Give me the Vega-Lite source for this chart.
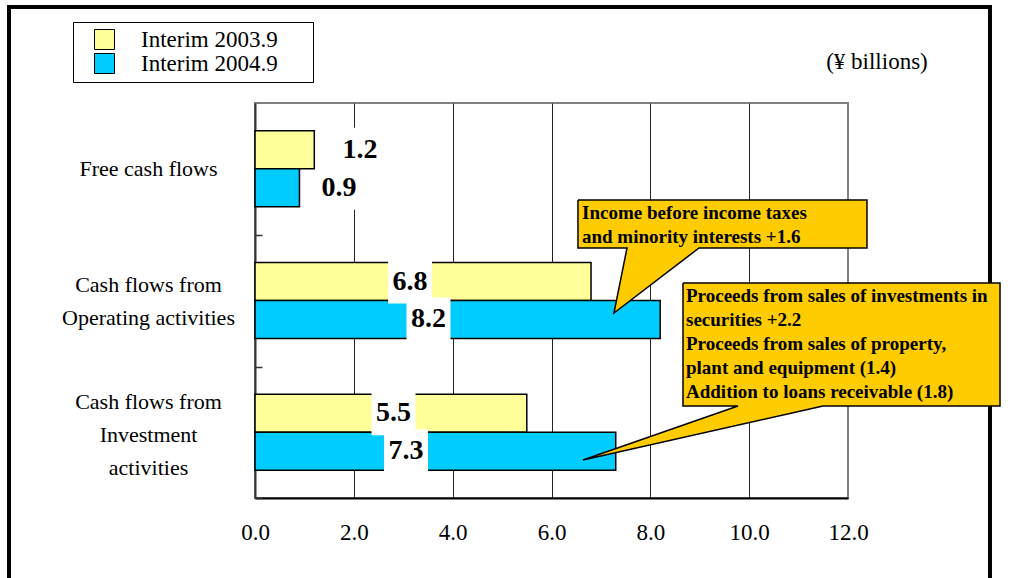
{
  "$schema": "https://vega.github.io/schema/vega-lite/v6.json",
  "width": 593,
  "height": 395,
  "autosize": "none",
  "padding": {"left": 255, "top": 103, "right": 163, "bottom": 80},
  "background": "white",
  "config": {
    "view": {"stroke": "#808080", "strokeWidth": 2},
    "font": "Liberation Serif"
  },
  "datasets": {
    "cf": [
      {"category": "Free cash flows", "series": "Interim 2003.9", "value": 1.2},
      {"category": "Free cash flows", "series": "Interim 2004.9", "value": 0.9},
      {"category": "Cash flows from Operating activities", "series": "Interim 2003.9", "value": 6.8},
      {"category": "Cash flows from Operating activities", "series": "Interim 2004.9", "value": 8.2},
      {"category": "Cash flows from Investment activities", "series": "Interim 2003.9", "value": 5.5},
      {"category": "Cash flows from Investment activities", "series": "Interim 2004.9", "value": 7.3}
    ],
    "valueLabels": [
      {"category": "Free cash flows", "series": "Interim 2003.9", "value": 1.2, "at": 2.125},
      {"category": "Free cash flows", "series": "Interim 2004.9", "value": 0.9, "at": 1.7},
      {"category": "Cash flows from Operating activities", "series": "Interim 2003.9", "value": 6.8, "at": 3.137},
      {"category": "Cash flows from Operating activities", "series": "Interim 2004.9", "value": 8.2, "at": 3.511},
      {"category": "Cash flows from Investment activities", "series": "Interim 2003.9", "value": 5.5, "at": 2.803},
      {"category": "Cash flows from Investment activities", "series": "Interim 2004.9", "value": 7.3, "at": 3.056}
    ],
    "callouts": [
      {"id": "a", "k": 1, "x": 6.536, "y": 0.737},
      {"id": "a", "k": 2, "x": 12.384, "y": 0.737},
      {"id": "a", "k": 3, "x": 12.384, "y": 1.101},
      {"id": "a", "k": 4, "x": 8.985, "y": 1.101},
      {"id": "a", "k": 5, "x": 7.264, "y": 1.595},
      {"id": "a", "k": 6, "x": 7.528, "y": 1.101},
      {"id": "a", "k": 7, "x": 6.536, "y": 1.101},
      {"id": "a", "k": 8, "x": 6.536, "y": 0.737},
      {"id": "b", "k": 1, "x": 8.661, "y": 1.367},
      {"id": "b", "k": 2, "x": 15.076, "y": 1.367},
      {"id": "b", "k": 3, "x": 15.076, "y": 2.301},
      {"id": "b", "k": 4, "x": 11.494, "y": 2.301},
      {"id": "b", "k": 5, "x": 6.637, "y": 2.711},
      {"id": "b", "k": 6, "x": 9.774, "y": 2.301},
      {"id": "b", "k": 7, "x": 8.661, "y": 2.301},
      {"id": "b", "k": 8, "x": 8.661, "y": 1.367}
    ],
    "notes": [
      {"x": 6.617, "y": 0.881, "text": "Income before income taxes\nand minority interests +1.6"},
      {"x": 8.722, "y": 1.511, "text": "Proceeds from sales of investments in\nsecurities +2.2\nProceeds from sales of property,\nplant and equipment (1.4)\nAddition to loans receivable (1.8)"}
    ],
    "unit": [
      {"x": 12.586, "y": -0.258, "text": "(¥ billions)"}
    ],
    "frame": [
      {"x": -4.978, "x2": 14.873, "y": -0.729, "y2": 3.775}
    ]
  },
  "resolve": {"scale": {"y": "independent"}},
  "layer": [
    {
      "layer": [
        {
          "data": {"name": "cf"},
          "mark": {"type": "bar", "stroke": "black", "strokeWidth": 1.5},
          "encoding": {
            "y": {
              "field": "category", "type": "nominal",
              "sort": ["Free cash flows", "Cash flows from Operating activities", "Cash flows from Investment activities"],
              "scale": {"paddingInner": 0.423, "paddingOuter": 0.2115},
              "axis": {
                "title": null,
                "domainColor": "#333333", "domainWidth": 2,
                "ticks": true, "tickBand": "center", "tickOffset": 66, "tickSize": -7, "tickColor": "#333333", "tickWidth": 1.5,
                "labelAlign": "center", "labelBaseline": "middle", "labelPadding": 114,
                "labelFont": "Liberation Serif", "labelFontSize": 22, "labelColor": "black",
                "labelLineHeight": 33, "labelLimit": 0,
                "labelOffset": {
                  "condition": [
                    {"test": "datum.value == 'Cash flows from Operating activities'", "value": -82},
                    {"test": "datum.value == 'Cash flows from Investment activities'", "value": -97}
                  ],
                  "value": -66
                },
                "labelExpr": "datum.label == 'Free cash flows' ? 'Free cash flows' : datum.label == 'Cash flows from Operating activities' ? ['Cash flows from', 'Operating activities'] : datum.label == 'Cash flows from Investment activities' ? ['Cash flows from', 'Investment', 'activities'] : ''"
              }
            },
            "yOffset": {
              "field": "series", "type": "nominal",
              "sort": ["Interim 2003.9", "Interim 2004.9"],
              "scale": {"paddingInner": 0, "paddingOuter": 0}
            },
            "x": {
              "field": "value", "type": "quantitative",
              "scale": {"domain": [0, 12], "nice": false, "zero": false},
              "axis": {
                "title": null, "values": [0, 2, 4, 6, 8, 10, 12], "format": ".1f",
                "domainColor": "black", "domainWidth": 2, "ticks": false, "labelFlush": false,
                "labelFont": "Liberation Serif", "labelFontSize": 23, "labelColor": "black", "labelPadding": 23,
                "grid": true, "gridWidth": 1,
                "gridColor": {"condition": {"test": "datum.value === 12", "value": "#808080"}, "value": "#222222"}
              }
            },
            "color": {
              "field": "series", "type": "nominal",
              "scale": {"domain": ["Interim 2003.9", "Interim 2004.9"], "range": ["#FFFF99", "#00CCFF"]},
              "legend": {
                "orient": "none", "legendX": -182, "legendY": -81, "title": null, "direction": "vertical",
                "strokeColor": "black", "fillColor": "white", "padding": 6,
                "symbolType": "square", "symbolSize": 400, "symbolStrokeColor": "black", "symbolStrokeWidth": 1,
                "symbolOffset": 14, "labelOffset": 25, "symbolOpacity": 1, "labelLimit": 0,
                "labelFont": "Liberation Serif", "labelFontSize": 23, "labelColor": "black", "rowPadding": -1,
                "labelExpr": "datum.label + '\u00a0\u00a0\u00a0\u00a0\u00a0\u200b'"
              }
            }
          }
        },
        {
          "data": {"name": "valueLabels"},
          "mark": {"type": "point", "shape": "square", "filled": true, "color": "white", "opacity": 1, "size": 1936, "strokeWidth": 0},
          "encoding": {
            "y": {"field": "category", "type": "nominal", "sort": ["Free cash flows", "Cash flows from Operating activities", "Cash flows from Investment activities"], "axis": {"title": null}},
            "yOffset": {"field": "series", "type": "nominal", "sort": ["Interim 2003.9", "Interim 2004.9"]},
            "x": {"field": "at", "type": "quantitative", "scale": {"domain": [0, 12], "nice": false, "zero": false}, "axis": {"title": null}}
          }
        },
        {
          "data": {"name": "valueLabels"},
          "mark": {"type": "text", "font": "Liberation Serif", "fontWeight": "bold", "fontSize": 28, "align": "center", "baseline": "middle", "color": "black"},
          "encoding": {
            "y": {"field": "category", "type": "nominal", "sort": ["Free cash flows", "Cash flows from Operating activities", "Cash flows from Investment activities"], "axis": {"title": null}},
            "yOffset": {"field": "series", "type": "nominal", "sort": ["Interim 2003.9", "Interim 2004.9"]},
            "x": {"field": "at", "type": "quantitative", "scale": {"domain": [0, 12], "nice": false, "zero": false}, "axis": {"title": null}},
            "text": {"field": "value", "type": "quantitative", "format": ".1f"}
          }
        }
      ]
    },
    {
      "layer": [
        {
          "data": {"name": "frame"},
          "mark": {"type": "rect", "fill": "transparent", "stroke": "black", "strokeWidth": 4},
          "encoding": {
            "x": {"field": "x", "type": "quantitative", "scale": {"domain": [0, 12], "nice": false, "zero": false}, "axis": {"title": null}},
            "x2": {"field": "x2"},
            "y": {"field": "y", "type": "quantitative", "scale": {"domain": [0, 3], "reverse": true, "nice": false, "zero": false}, "axis": null},
            "y2": {"field": "y2"}
          }
        },
        {
          "data": {"name": "callouts"},
          "mark": {"type": "line", "fill": "#FFCC00", "stroke": "black", "strokeWidth": 1.5, "interpolate": "linear", "strokeJoin": "miter"},
          "encoding": {
            "x": {"field": "x", "type": "quantitative", "scale": {"domain": [0, 12], "nice": false, "zero": false}, "axis": {"title": null}},
            "y": {"field": "y", "type": "quantitative", "scale": {"domain": [0, 3], "reverse": true, "nice": false, "zero": false}, "axis": null},
            "detail": {"field": "id", "type": "nominal"},
            "order": {"field": "k", "type": "quantitative"}
          }
        },
        {
          "data": {"name": "notes"},
          "mark": {"type": "text", "font": "Liberation Serif", "fontWeight": "bold", "fontSize": 19, "lineHeight": 24, "lineBreak": "\n", "align": "left", "baseline": "alphabetic", "color": "black"},
          "encoding": {
            "x": {"field": "x", "type": "quantitative", "scale": {"domain": [0, 12], "nice": false, "zero": false}, "axis": {"title": null}},
            "y": {"field": "y", "type": "quantitative", "scale": {"domain": [0, 3], "reverse": true, "nice": false, "zero": false}, "axis": null},
            "text": {"field": "text", "type": "nominal"}
          }
        },
        {
          "data": {"name": "unit"},
          "mark": {"type": "text", "font": "Liberation Serif", "fontSize": 23, "align": "center", "baseline": "alphabetic", "color": "black"},
          "encoding": {
            "x": {"field": "x", "type": "quantitative", "scale": {"domain": [0, 12], "nice": false, "zero": false}, "axis": {"title": null}},
            "y": {"field": "y", "type": "quantitative", "scale": {"domain": [0, 3], "reverse": true, "nice": false, "zero": false}, "axis": null},
            "text": {"field": "text", "type": "nominal"}
          }
        }
      ]
    }
  ]
}
